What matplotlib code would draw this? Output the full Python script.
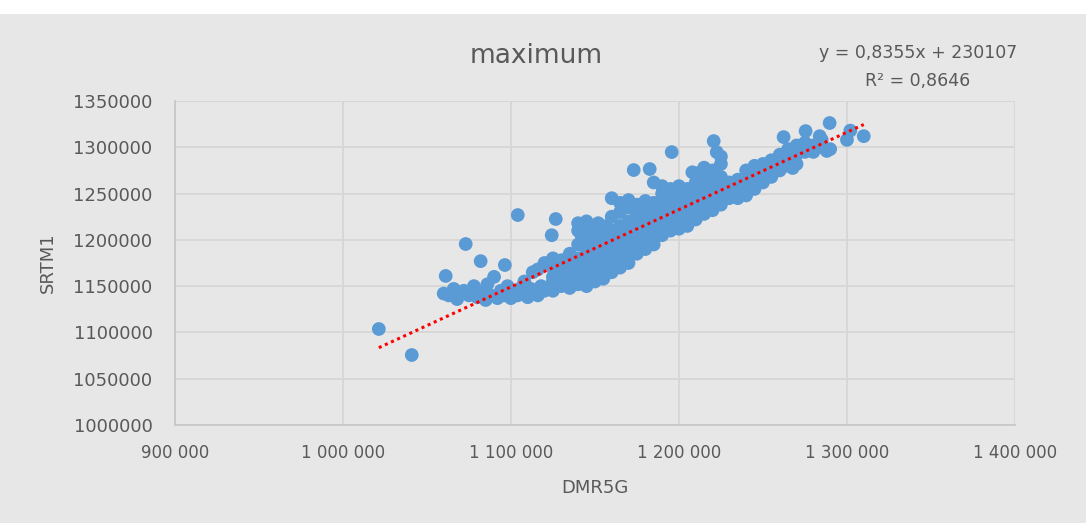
import numpy as np
import matplotlib
matplotlib.use("Agg")
import matplotlib.pyplot as plt
from matplotlib.ticker import FuncFormatter

# DMR5G (x) vs SRTM1 (y)
dmr5g = [
    1021400, 1041000, 1073100, 1104100, 1126700, 1061200, 1082000, 1096400, 1124300,
    1060000, 1063000, 1066000, 1068000, 1072000, 1075000, 1078000, 1080000, 1082000,
    1085000, 1086000, 1088000, 1090000, 1092000, 1094000, 1096000, 1098000, 1100000,
    1102000, 1104000, 1106000, 1108000, 1110000, 1112000, 1114000, 1116000, 1118000,
    1120000, 1113000, 1116000, 1120000, 1108000,
    1125000, 1125000, 1125000, 1125000, 1125000, 1125000,
    1130000, 1130000, 1130000, 1130000, 1130000,
    1135000, 1135000, 1135000, 1135000, 1135000, 1135000,
    1140000, 1140000, 1140000, 1140000, 1140000, 1140000, 1140000, 1140000,
    1145000, 1145000, 1145000, 1145000, 1145000, 1145000, 1145000, 1145000, 1145000,
    1150000, 1150000, 1150000, 1150000, 1150000, 1150000, 1150000, 1150000,
    1155000, 1155000, 1155000, 1155000, 1155000, 1155000, 1155000,
    1160000, 1160000, 1160000, 1160000, 1160000, 1160000, 1160000, 1160000,
    1165000, 1165000, 1165000, 1165000, 1165000, 1165000, 1165000, 1165000,
    1170000, 1170000, 1170000, 1170000, 1170000, 1170000, 1170000, 1170000,
    1175000, 1175000, 1175000, 1175000, 1175000, 1175000, 1175000,
    1180000, 1180000, 1180000, 1180000, 1180000, 1180000, 1180000,
    1185000, 1185000, 1185000, 1185000, 1185000, 1185000, 1185000,
    1190000, 1190000, 1190000, 1190000, 1190000, 1190000, 1190000,
    1195000, 1195000, 1195000, 1195000, 1195000, 1195000,
    1200000, 1200000, 1200000, 1200000, 1200000, 1200000,
    1205000, 1205000, 1205000, 1205000, 1205000,
    1210000, 1210000, 1210000, 1210000, 1210000, 1210000,
    1215000, 1215000, 1215000, 1215000, 1215000, 1215000,
    1220000, 1220000, 1220000, 1220000, 1220000,
    1225000, 1225000, 1225000, 1225000, 1225000, 1225000,
    1230000, 1230000, 1230000,
    1235000, 1235000, 1235000,
    1240000, 1240000, 1240000, 1240000,
    1245000, 1245000, 1245000, 1245000,
    1250000, 1250000, 1250000,
    1255000, 1255000, 1255000,
    1260000, 1260000, 1260000,
    1265000, 1265000, 1265000,
    1270000, 1270000, 1270000,
    1275000, 1275000,
    1280000, 1280000,
    1285000, 1285000,
    1290000,
    1173100, 1182600, 1195700, 1208000, 1220700, 1222500, 1262300, 1275400, 1283800,
    1289700, 1267700, 1283000, 1288000, 1300000, 1302000, 1310000,
    1142000, 1147000, 1152000, 1157000, 1143000, 1150000, 1155000, 1138000,
]
srtm1 = [
    1103700, 1075600, 1195500, 1226800, 1222500, 1161000, 1177000, 1172800, 1205000,
    1142000, 1140000, 1147000, 1136000, 1145000, 1140000, 1150000, 1138000, 1144000,
    1135000, 1152000, 1140000, 1160000, 1137000, 1145000, 1140000, 1150000, 1137000,
    1143000, 1140000, 1148000, 1142000, 1138000, 1147000, 1144000, 1140000, 1150000,
    1145000, 1165000, 1168000, 1175000, 1155000,
    1145000, 1150000, 1155000, 1160000, 1170000, 1180000,
    1150000, 1155000, 1162000, 1170000, 1178000,
    1148000, 1153000, 1160000, 1168000, 1175000, 1185000,
    1152000, 1158000, 1165000, 1172000, 1180000, 1195000, 1210000, 1218000,
    1150000, 1156000, 1163000, 1170000, 1178000, 1188000, 1200000, 1215000, 1220000,
    1155000, 1160000, 1168000, 1175000, 1185000, 1195000, 1205000, 1212000,
    1158000, 1165000, 1172000, 1180000, 1190000, 1200000, 1210000,
    1165000, 1172000, 1180000, 1188000, 1198000, 1210000, 1225000, 1245000,
    1170000, 1178000, 1186000, 1195000, 1205000, 1215000, 1230000, 1240000,
    1175000, 1183000, 1190000, 1200000, 1210000, 1220000, 1235000, 1243000,
    1185000, 1192000, 1200000, 1208000, 1218000, 1228000, 1238000,
    1190000, 1198000, 1205000, 1215000, 1225000, 1235000, 1242000,
    1195000, 1203000, 1212000, 1220000, 1230000, 1240000, 1262000,
    1205000, 1212000, 1220000, 1228000, 1238000, 1250000, 1258000,
    1210000, 1218000, 1225000, 1235000, 1245000, 1255000,
    1212000, 1220000, 1230000, 1240000, 1250000, 1258000,
    1215000, 1225000, 1235000, 1245000, 1255000,
    1222000, 1232000, 1242000, 1252000, 1262000, 1272000,
    1228000, 1238000, 1248000, 1258000, 1268000, 1278000,
    1232000, 1242000, 1252000, 1262000, 1275000,
    1238000, 1248000, 1258000, 1268000, 1282000, 1290000,
    1245000, 1252000, 1262000,
    1245000, 1255000, 1265000,
    1248000, 1258000, 1268000, 1275000,
    1255000, 1262000, 1272000, 1280000,
    1262000, 1270000, 1282000,
    1268000, 1278000, 1286000,
    1275000, 1285000, 1292000,
    1280000, 1290000, 1298000,
    1282000, 1292000, 1302000,
    1295000, 1305000,
    1295000, 1302000,
    1300000, 1308000,
    1298000,
    1275400, 1276500, 1294800, 1273000, 1306700, 1294800, 1311000, 1317500, 1312000,
    1326200, 1277600, 1300000, 1296000, 1308000, 1318000, 1312000,
    1205000, 1212000, 1218000, 1215000, 1195000, 1200000, 1205000, 1158000,
]

# linear trendline as reported on the chart
slope = 0.8355
intercept = 230107
r_squared = 0.8646

bg = "#e7e7e7"
text_col = "#595959"

fig = plt.figure(figsize=(10.86, 5.23), dpi=100, facecolor=bg)
# white strip along the top edge of the screenshot
fig.patches.append(plt.Rectangle((0, 1 - 14 / 523), 1, 14 / 523, transform=fig.transFigure,
                                 facecolor="white", edgecolor="none", zorder=0))
ax = fig.add_axes([0.161, 0.1874, 0.7736, 0.6195])
ax.set_facecolor(bg)

ax.scatter(dmr5g, srtm1, s=98, color="#5b9bd5", edgecolors="none", zorder=3)

x_fit = np.array([min(dmr5g), max(dmr5g)])
ax.plot(x_fit, slope * x_fit + intercept, color="#ff0000", linestyle=(0, (1, 1.2)),
        linewidth=2.2, zorder=4)

ax.set_xlim(900000, 1400000)
ax.set_ylim(1000000, 1350000)
ax.set_xticks(np.arange(900000, 1400001, 100000))
ax.set_yticks(np.arange(1000000, 1350001, 50000))
ax.xaxis.set_major_formatter(FuncFormatter(lambda v, p: f"{int(v):,}".replace(",", " ")))
ax.yaxis.set_major_formatter(FuncFormatter(lambda v, p: f"{int(v)}"))
ax.tick_params(length=0, colors=text_col)
ax.tick_params(axis="x", pad=14, labelsize=12)
ax.tick_params(axis="y", pad=16, labelsize=13)
ax.grid(True, color="#d6d6d6", linewidth=1.3, zorder=0)
ax.set_axisbelow(True)
for side in ["top", "right"]:
    ax.spines[side].set_visible(False)
for side in ["left", "bottom"]:
    ax.spines[side].set_color("#c8c8c8")
    ax.spines[side].set_linewidth(1.3)

ax.set_xlabel("DMR5G", fontsize=13, color=text_col, labelpad=12)
ax.set_ylabel("SRTM1", fontsize=13, color=text_col, labelpad=10)
ax.yaxis.set_label_coords(-0.14, 0.5)
fig.text(0.494, 0.893, "maximum", ha="center", va="center", fontsize=19, color=text_col)
fig.text(0.845, 0.898, f"y = {str(slope).replace('.', ',')}x + {intercept}", ha="center",
         va="center", fontsize=12.5, color=text_col)
fig.text(0.845, 0.845, f"R² = {str(r_squared).replace('.', ',')}", ha="center",
         va="center", fontsize=12.5, color=text_col)

fig.savefig("out.png", dpi=100, facecolor=bg)
